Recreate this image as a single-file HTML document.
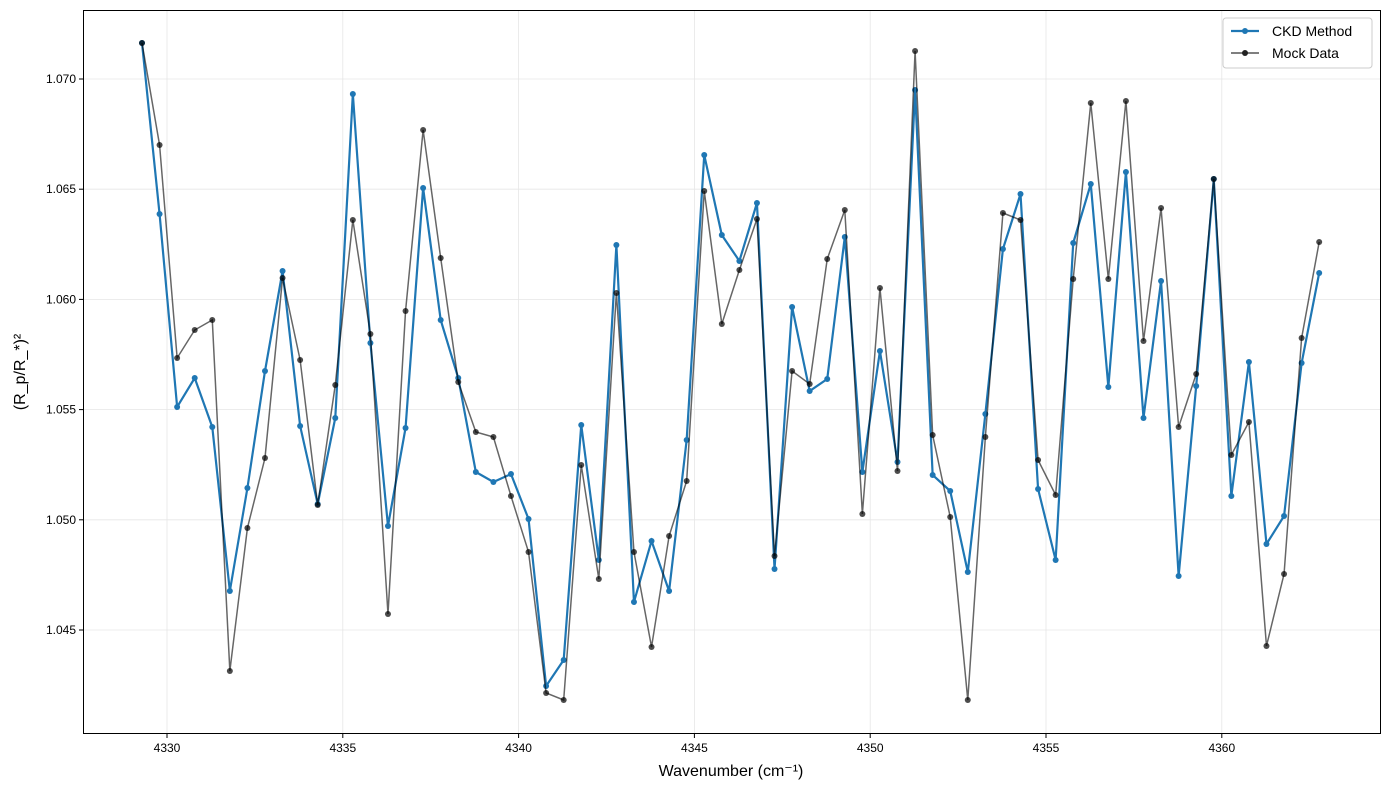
<!DOCTYPE html>
<html><head><meta charset="utf-8"><style>body{margin:0;background:#fff}svg{display:block;font-family:"Liberation Sans","DejaVu Sans",sans-serif}</style></head><body>
<svg id="s" width="1390" height="790" xmlns="http://www.w3.org/2000/svg">
<rect x="0" y="0" width="1390" height="790" fill="#fff"/>
<g id="grid" stroke="#e6e6e6" stroke-width="0.8"></g>
<g id="series"></g>
<rect x="83.5" y="10.5" width="1297" height="723" fill="none" stroke="#000" stroke-width="1"/>
<g id="ticks" font-size="12" fill="#000"></g>
<text x="731" y="776" font-size="16" text-anchor="middle">Wavenumber (cm⁻¹)</text>
<text transform="translate(25,372) rotate(-90)" font-size="16" text-anchor="middle">(R_p/R_*)²</text>
<g>
<rect x="1223" y="18" width="149" height="50" rx="3" fill="#fff" fill-opacity="0.85" stroke="#ccc"/>
<line x1="1231" y1="31" x2="1259" y2="31" stroke="#1f77b4" stroke-width="2.2"/><circle cx="1245" cy="31" r="3" fill="#1f77b4"/>
<text x="1272" y="36" font-size="14">CKD Method</text>
<line x1="1231" y1="53" x2="1259" y2="53" stroke="#555" stroke-width="1.5"/><circle cx="1245" cy="53" r="3" fill="#222"/>
<text x="1272" y="58" font-size="14">Mock Data</text>
</g>
</svg>
<script>
const ckd=[43,214,407,378,427,591,488,371,271,426,504,418,94,343,526,428,188,320,378,472,482,474,519,686,660,425,560,245,602,541,591,440,155,235,261,203,569,307,391,379,237,472,351,462,90,475,491,572,414,249,194,489,560,243,184,387,172,418,281,576,386,179,496,362,544,516,363,273];
const mock=[43,145,358,330,320,671,528,458,278,360,505,385,220,334,614,311,130,258,382,432,437,496,552,693,700,465,579,293,552,647,536,481,191,324,270,219,556,371,384,259,210,514,288,471,51,435,517,700,437,213,220,460,495,279,103,279,101,341,208,427,374,179,455,422,646,574,338,242];
const X=i=>142+i*17.57;
const ns="http://www.w3.org/2000/svg";
function el(p,t,a,txt){const e=document.createElementNS(ns,t);for(const k in a)e.setAttribute(k,a[k]);if(txt)e.textContent=txt;p.appendChild(e);return e;}
const g=document.getElementById('grid'),tk=document.getElementById('ticks'),sr=document.getElementById('series');
[4330,4335,4340,4345,4350,4355,4360].forEach((v,i)=>{const x=167+i*175.8;el(g,'line',{x1:x,y1:11,x2:x,y2:733});el(tk,'line',{x1:x,y1:734,x2:x,y2:738,stroke:'#000'});el(tk,'text',{x:x,y:752,'text-anchor':'middle'},String(v));});
['1.070','1.065','1.060','1.055','1.050','1.045'].forEach((v,i)=>{const y=79+i*110.2;el(g,'line',{x1:84,y1:y,x2:1380,y2:y});el(tk,'line',{x1:79,y1:y,x2:83,y2:y,stroke:'#000'});el(tk,'text',{x:76,y:y+4,'text-anchor':'end'},v);});
el(sr,'polyline',{points:ckd.map((y,i)=>X(i)+','+y).join(' '),fill:'none',stroke:'#1f77b4','stroke-width':2.2});
ckd.forEach((y,i)=>el(sr,'circle',{cx:X(i),cy:y,r:3,fill:'#1f77b4'}));
el(sr,'polyline',{points:mock.map((y,i)=>X(i)+','+y).join(' '),fill:'none',stroke:'#000','stroke-opacity':0.6,'stroke-width':1.5});
mock.forEach((y,i)=>el(sr,'circle',{cx:X(i),cy:y,r:3,fill:'#000','fill-opacity':0.7}));
</script>
</body></html>
